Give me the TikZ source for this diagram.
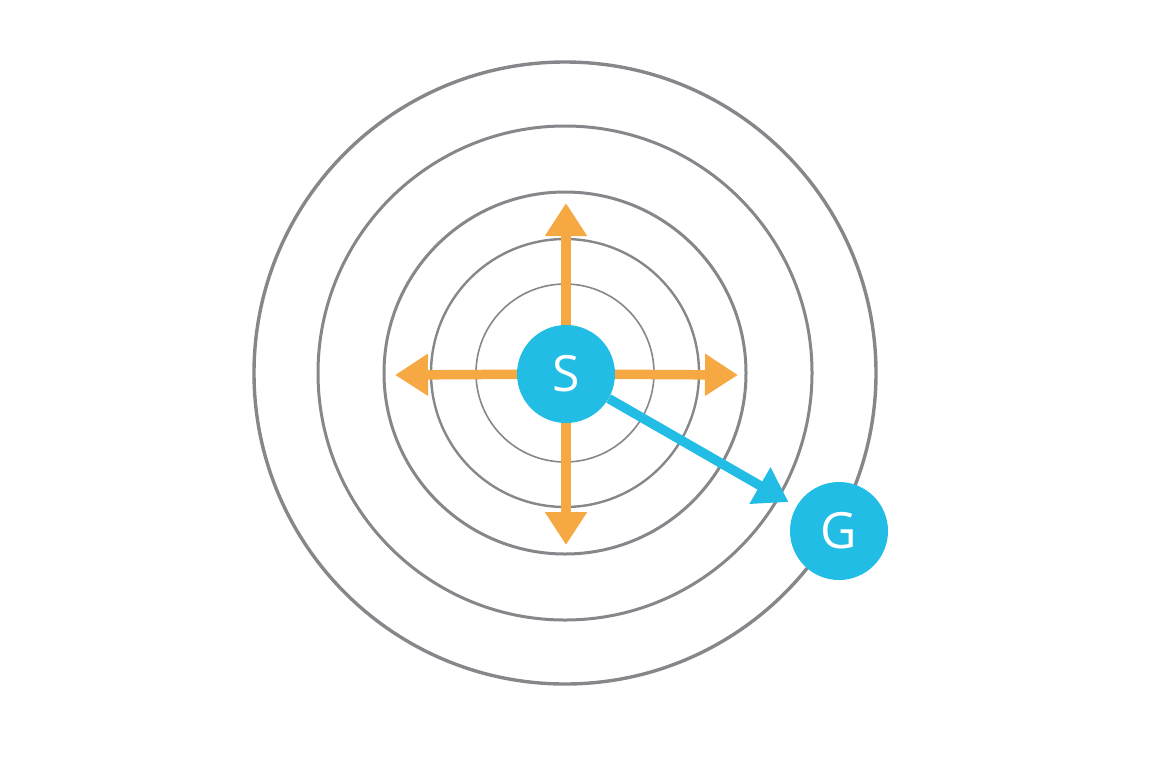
\documentclass[tikz,border=0pt]{standalone}
\usepackage{fontspec}
\setmainfont{Open Sans}
\usetikzlibrary{arrows.meta,backgrounds}
\definecolor{ring}{HTML}{86878B}
\definecolor{orng}{HTML}{F6A843}
\definecolor{sky}{HTML}{22BDE5}
\tikzset{
  ringline/.style={draw=ring},
  orangearrow/.style={draw=orng, line width=9.5pt, -{Triangle[length=33pt,width=40pt]}},
  bluearrow/.style={draw=sky, line width=9.5pt, -{Triangle[length=33pt,width=40pt]}},
  statenode/.style={circle, fill=sky, minimum size=98pt, inner sep=0pt, text=white, font=\fontsize{50}{50}\selectfont}
}
\begin{document}
\begin{tikzpicture}[x=1pt,y=-1pt]
\useasboundingbox (0,0) rectangle (1172,756);
\coordinate (C) at (565,373);
\coordinate (up) at (566,203);
\coordinate (down) at (566,545);
\coordinate (left) at (395,375);
\coordinate (right) at (738,375);
\node[statenode] (S) at (566,374) {S};
\node[statenode] (G) at (839,531) {G};
\begin{scope}[on background layer]
\draw[ringline, line width=1.6pt] (C) circle (89);
\draw[ringline, line width=2.4pt] (C) circle (134);
\draw[ringline, line width=3pt] (C) circle (181);
\draw[ringline, line width=3pt] (C) circle (247);
\draw[ringline, line width=3.4pt] (C) circle (311);
\draw[orangearrow] (S.center) -- (up);
\draw[orangearrow] (S.center) -- (down);
\draw[orangearrow] (S.center) -- (left);
\draw[orangearrow] (S.center) -- (right);
\draw[bluearrow, shorten >=9pt] (S) -- (G);
\end{scope}
\end{tikzpicture}
\end{document}
